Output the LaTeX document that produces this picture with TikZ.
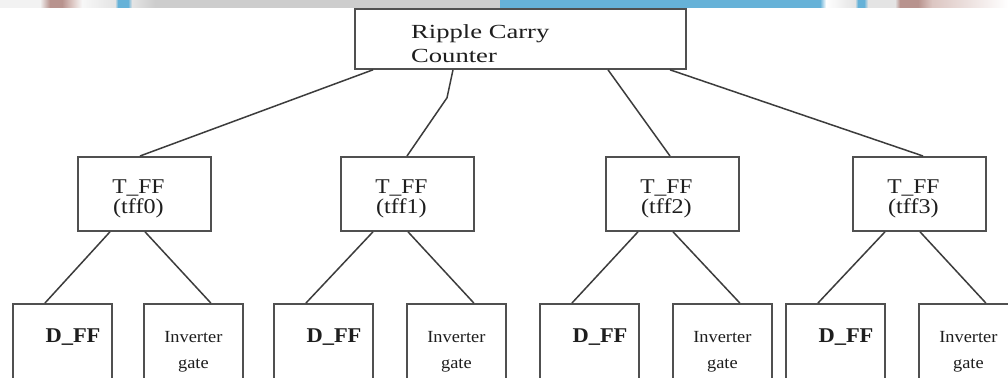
\documentclass[tikz,border=0pt]{standalone}
\usepackage{fontspec}
\setmainfont{Liberation Serif}
\usepackage{graphicx}
\usetikzlibrary{calc}
\newcommand{\stretchx}[2]{\scalebox{#1}[1]{#2}}
\definecolor{linkgray}{HTML}{3C3C3C}
\definecolor{framegray}{HTML}{505050}
\definecolor{inkgray}{HTML}{1E1E1E}
\definecolor{stripgrey}{HTML}{CDCDCD}
\definecolor{stripblue}{HTML}{66B2D8}
\definecolor{stripmauve}{HTML}{B8938E}
\definecolor{stripmist}{HTML}{E4E4E4}
\definecolor{striprose}{HTML}{DCC6C2}
\begin{document}
\begin{tikzpicture}[x=1pt,y=-1pt,
  link/.style={draw=linkgray, line width=1.5pt},
  boxbase/.style={draw=framegray, line width=1.8pt, fill=white, inner sep=0pt, anchor=north west},
  rootbox/.style={boxbase, minimum width=331pt, minimum height=60pt},
  midbox/.style={boxbase, minimum width=133pt, minimum height=74pt},
  leafbox/.style={boxbase, minimum width=99pt, minimum height=117pt},
  txt/.style={inner sep=0pt, text=inkgray},
  rootfont/.style={txt, anchor=base west, font=\fontsize{20}{24}\selectfont},
  ffont/.style={txt, anchor=base, font=\fontsize{21}{25}\selectfont},
  dfont/.style={txt, anchor=base, font=\bfseries\fontsize{21}{25}\selectfont},
  ifont/.style={txt, anchor=base, font=\fontsize{17}{20}\selectfont}]

\useasboundingbox (0,0) rectangle (1008,377);
\clip (0,0) rectangle (1008,377);
\fill[white] (0,0) rectangle (1008,377);

% banner strip along the top edge
\fill[white!95!black] (0,0) rectangle (40,8);
\shade[left color=white!95!black, right color=stripmauve] (40,0) rectangle (50,8);
\fill[stripmauve] (50,0) rectangle (62,8);
\shade[left color=stripmauve, right color=striprose] (62,0) rectangle (72,8);
\shade[left color=striprose, right color=white!97!black] (72,0) rectangle (82,8);
\shade[left color=white!97!black, right color=stripmist] (82,0) rectangle (115,8);
\shade[left color=stripmist, right color=stripblue] (115,0) rectangle (118,8);
\fill[stripblue] (118,0) rectangle (128,8);
\shade[left color=stripblue, right color=stripmist] (128,0) rectangle (132,8);
\shade[left color=stripmist, right color=stripgrey] (132,0) rectangle (155,8);
\fill[stripgrey] (155,0) rectangle (500,8);
\fill[stripblue] (500,0) rectangle (820,8);
\shade[left color=stripblue, right color=white] (820,0) rectangle (826,8);
\shade[left color=white, right color=stripmist] (826,0) rectangle (855,8);
\shade[left color=stripmist, right color=stripblue] (855,0) rectangle (858,8);
\fill[stripblue] (858,0) rectangle (864,8);
\shade[left color=stripblue, right color=stripmist] (864,0) rectangle (868,8);
\fill[stripmist] (868,0) rectangle (895,8);
\shade[left color=stripmist, right color=stripmauve] (895,0) rectangle (900,8);
\fill[stripmauve] (900,0) rectangle (918,8);
\shade[left color=stripmauve, right color=striprose] (918,0) rectangle (932,8);
\shade[left color=striprose, right color=white] (932,0) rectangle (1008,8);

% top level
\node[rootbox] (root) at (354,8) {};
\node[rootfont] (rootA) at (411,39) {\stretchx{1.33}{Ripple Carry}};
\node[rootfont] (rootB) at (411,63) {\stretchx{1.33}{Counter}};

% T flip-flops
\foreach \i/\x in {0/77,1/340,2/605,3/852} {
  \node[midbox] (tff\i) at (\x,156) {};
  \node[ffont] (tffname\i) at ($(tff\i.north)+(-6,37)$) {\stretchx{1.12}{T\_FF}};
  \node[ffont] (tfflabel\i) at ($(tff\i.north)+(-6,57)$) {\stretchx{1.15}{(tff\i)}};
}

\draw[link] ($(root.south west)+(19,0)$) -- ($(tff0.north west)+(63,0)$);
\draw[link] ($(root.south west)+(99,0)$) -- ($(root.south west)+(93,28)$) -- ($(tff1.north west)+(67,0)$);
\draw[link] ($(root.south west)+(254,0)$) -- ($(tff2.north west)+(65,0)$);
\draw[link] ($(root.south west)+(316,0)$) -- ($(tff3.north west)+(71,0)$);

% D flip-flops and inverters under each T flip-flop
\foreach \i/\dx/\ix in {0/12/143,1/273/406,2/539/672,3/785/918} {
  \node[leafbox] (dff\i) at (\dx,303) {};
  \node[dfont] (dffname\i) at ($(dff\i.north west)+(61,39)$) {\stretchx{1.07}{D\_FF}};
  \node[leafbox] (inv\i) at (\ix,303) {};
  \node[ifont] (invA\i) at ($(inv\i.north)+(0,39)$) {\stretchx{1.08}{Inverter}};
  \node[ifont] (invB\i) at ($(inv\i.north)+(0,65)$) {\stretchx{1.08}{gate}};
  \draw[link] ($(tff\i.south west)+(33,0)$) -- ($(dff\i.north west)+(33,0)$);
  \draw[link] ($(tff\i.south west)+(68,0)$) -- ($(inv\i.north east)+(-33,0)$);
}
\end{tikzpicture}
\end{document}
